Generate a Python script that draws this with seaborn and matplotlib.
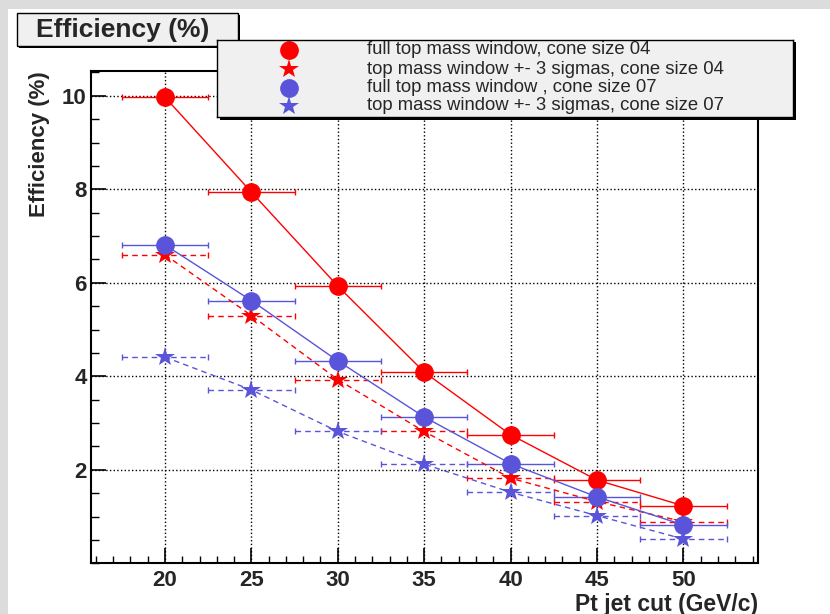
import matplotlib
matplotlib.use("Agg")
import matplotlib.pyplot as plt
from matplotlib.patches import Rectangle
from matplotlib.ticker import MultipleLocator
import seaborn as sns
import pandas as pd

# --- data ---
pt_cut = [20, 25, 30, 35, 40, 45, 50]
pt_err = [2.5, 2.5, 2.5, 2.5, 2.5, 2.5, 2.5]
eff_full_04 = [9.97, 7.94, 5.93, 4.09, 2.75, 1.78, 1.23]
eff_3sig_04 = [6.6, 5.3, 3.93, 2.82, 1.82, 1.32, 0.89]
eff_full_07 = [6.81, 5.62, 4.33, 3.13, 2.13, 1.42, 0.82]
eff_3sig_07 = [4.41, 3.71, 2.82, 2.12, 1.52, 1.02, 0.52]

labels = ["full top mass window, cone size 04",
          "top mass window +- 3 sigmas, cone size 04",
          "full top mass window , cone size 07",
          "top mass window +- 3 sigmas, cone size 07"]

RED = "#ff0000"
BLUE = "#5954d9"
DASH = (0, (4, 3))

series = [
    (eff_full_04, RED, "o", "-", 13.5),
    (eff_3sig_04, RED, "*", DASH, 14.5),
    (eff_full_07, BLUE, "o", "-", 13.5),
    (eff_3sig_07, BLUE, "*", DASH, 14.5),
]

sns.set_style("ticks")
plt.rcParams["font.family"] = ["Liberation Sans", "DejaVu Sans"]

W, H = 830, 614
fig = plt.figure(figsize=(W / 100, H / 100), dpi=100)
fig.patch.set_facecolor("#dcdcdc")
fig.add_artist(Rectangle((8 / W, 0), 1, 1 - 9 / H, transform=fig.transFigure,
                         facecolor="white", edgecolor="none", zorder=-1))

ax = fig.add_axes([91 / W, 1 - 563.3 / H, (757.7 - 91) / W, (563.3 - 71) / H])

for vals, col, mk, ls, ms in series:
    df = pd.DataFrame({"pt": pt_cut, "eff": vals})
    sns.lineplot(data=df, x="pt", y="eff", ax=ax, color=col, linestyle=ls, lw=1,
                 marker=mk, markersize=ms, markeredgewidth=0, zorder=3)
    eb = ax.errorbar(pt_cut, vals, xerr=pt_err, fmt="none", ecolor=col,
                     elinewidth=1, capsize=2.5, capthick=1, zorder=2)
    if ls != "-":
        eb[2][0].set_linestyle(DASH)

ax.set_xlim(15.72, 54.3)
ax.set_ylim(0, 10.53)
ax.set_xticks(pt_cut)
ax.set_yticks([2, 4, 6, 8, 10])
ax.xaxis.set_minor_locator(MultipleLocator(1))
ax.yaxis.set_minor_locator(MultipleLocator(0.5))
ax.tick_params(which="major", direction="in", length=10.8, width=1.2, labelsize=16,
               color="black")
ax.tick_params(which="minor", direction="in", length=5.4, width=1.0, color="black")
ax.tick_params(axis="x", pad=5)
ax.tick_params(axis="y", pad=3)
for lab in ax.get_xticklabels() + ax.get_yticklabels():
    lab.set_fontweight("bold")
ax.grid(True, which="major", linestyle=":", color="black", lw=1)
for sp in ax.spines.values():
    sp.set_linewidth(1.5)
    sp.set_color("black")
ax.set_xlabel("Pt jet cut (GeV/c)", loc="right", fontsize=16.5, fontweight="bold",
              labelpad=1)
ax.set_ylabel("Efficiency (%)", loc="top", fontsize=16, fontweight="bold", labelpad=9)

# title box with shadow
fig.add_artist(Rectangle((19 / W, 1 - 48 / H), 221 / W, 33 / H, transform=fig.transFigure,
                         facecolor="black", edgecolor="none", zorder=4))
fig.add_artist(Rectangle((17 / W, 1 - 46 / H), 221 / W, 33 / H, transform=fig.transFigure,
                         facecolor="#f0f0f0", edgecolor="black", lw=1, zorder=5))
fig.text(123 / W, 1 - 30 / H, "Efficiency (%)", ha="center", va="center",
         fontsize=19, fontweight="bold", zorder=6)

# legend box with shadow
fig.add_artist(Rectangle((220 / W, 1 - 119.5 / H), 576 / W, 77 / H,
                         transform=fig.transFigure, facecolor="black",
                         edgecolor="none", zorder=4))
lax = fig.add_axes([217 / W, 1 - 117 / H, 576 / W, 77 / H], zorder=5)
lax.set_facecolor("#f0f0f0")
lax.set_xlim(217, 793)
lax.set_ylim(117, 40)
lax.set_xticks([])
lax.set_yticks([])
for sp in lax.spines.values():
    sp.set_linewidth(1)
    sp.set_color("black")
rows = [50, 69, 87.5, 106]
for (vals, col, mk, ls, ms), lab, ry in zip(series, labels, rows):
    lax.plot([289], [ry], marker=mk, color=col, markersize=ms, markeredgewidth=0)
    lax.text(367, ry, lab, ha="left", va="center", fontsize=13.3)

fig.savefig("out.png", dpi=100, facecolor=fig.get_facecolor())
